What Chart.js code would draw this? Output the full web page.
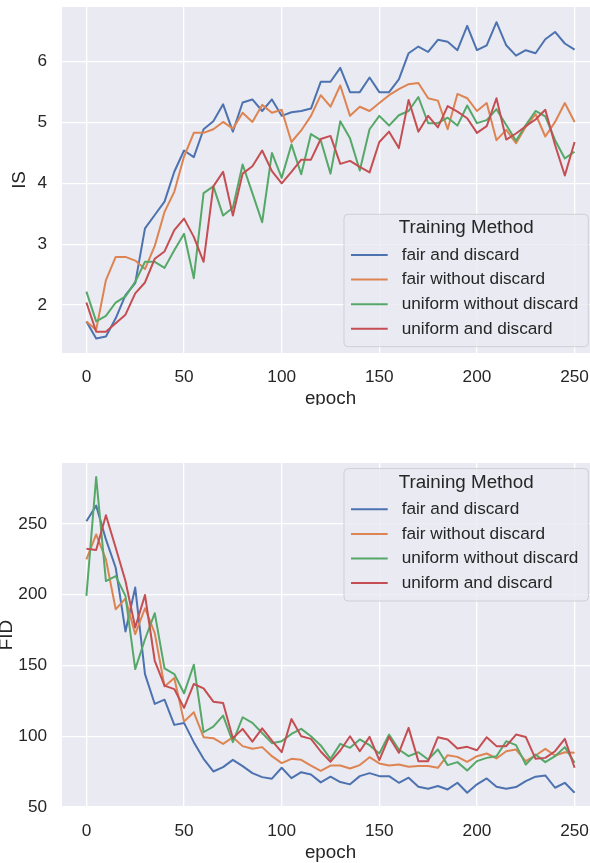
<!DOCTYPE html>
<html><head><meta charset="utf-8">
<script src="https://cdn.jsdelivr.net/npm/chart.js@4"></script>
<style>
html,body{margin:0;padding:0;background:#fff;overflow:hidden;width:590px;height:863px}
.wrap{position:absolute;left:0;width:590px;overflow:hidden}
canvas{display:block}
</style></head><body>
<div class="wrap" style="top:0;height:405px"><canvas id="c1" width="599" height="456"></canvas></div>
<div class="wrap" style="top:455px;height:408px"><canvas id="c2" width="599" height="456"></canvas></div>
<script>
// ---- data ----
const epochs = [0,5,10,15,20,25,30,35,40,45,50,55,60,65,70,75,80,85,90,95,100,105,110,115,120,125,130,135,140,145,150,155,160,165,170,175,180,185,190,195,200,205,210,215,220,225,230,235,240,245,250];
const seriesNames = ["fair and discard","fair without discard","uniform without discard","uniform and discard"];
const legendTitle = "Training Method";
const xTickLabels = [0,50,100,150,200,250];
const isTickLabels = [2,3,4,5,6];
const fidTickLabels = [50,100,150,200,250];

const isFairDiscard = [1.73,1.45,1.48,1.78,2.16,2.36,3.26,3.48,3.70,4.19,4.54,4.43,4.89,5.02,5.30,4.85,5.33,5.38,5.19,5.38,5.11,5.17,5.19,5.23,5.67,5.67,5.90,5.50,5.50,5.74,5.50,5.50,5.71,6.14,6.25,6.16,6.36,6.33,6.19,6.59,6.19,6.27,6.65,6.27,6.10,6.19,6.14,6.37,6.49,6.30,6.20];
const isFairNoDiscard = [1.73,1.59,2.41,2.79,2.79,2.73,2.59,2.97,3.53,3.86,4.44,4.83,4.83,4.89,5.01,4.90,5.16,5.01,5.29,5.16,5.21,4.68,4.87,5.11,5.45,5.26,5.61,5.11,5.26,5.19,5.32,5.45,5.55,5.63,5.65,5.40,5.36,4.89,5.47,5.40,5.19,5.32,4.71,4.88,4.66,4.93,5.14,4.77,5.01,5.32,5.01];
const isUniformNoDiscard = [2.22,1.73,1.82,2.04,2.14,2.38,2.71,2.71,2.61,2.90,3.17,2.44,3.84,3.95,3.47,3.60,4.31,3.84,3.36,4.50,4.09,4.64,4.15,4.81,4.71,4.16,5.02,4.74,4.21,4.89,5.11,4.95,5.12,5.19,5.42,4.99,4.99,5.08,4.95,5.28,4.99,5.04,5.22,4.96,4.70,4.96,5.19,5.10,4.71,4.41,4.52];
const isUniformDiscard = [2.04,1.56,1.56,1.70,1.84,2.19,2.37,2.76,2.88,3.23,3.42,3.12,2.71,3.95,4.19,3.47,4.16,4.28,4.54,4.20,4.00,4.19,4.39,4.39,4.73,4.78,4.32,4.37,4.27,4.18,4.68,4.85,4.58,5.37,4.85,5.11,4.92,5.27,5.18,5.07,4.83,4.94,5.40,4.72,4.82,4.94,5.05,5.21,4.63,4.13,4.68];

const fidFairDiscard = [251.9,262.9,239,219,174,205,143.9,122.8,125.8,108,109.4,95.8,84,75.1,78.2,83.3,78.9,73.9,71.1,70,77.7,70.4,74.6,73,67.4,71.4,67.6,66,71.8,73.9,71.8,71.8,67.1,70.7,64.3,62.9,64.8,62.4,67.1,60.1,66,70.2,64.3,62.9,64.1,68.3,71.4,72.3,63.6,67.1,60.1];
const fidFairNoDiscard = [224.9,242.5,224.9,189.7,197.2,172.1,190.4,172.8,135.2,141.1,110.3,116.9,99.3,98.6,94.6,99.3,93,91.1,92.3,85.9,81,84,83.3,79.3,75.6,79.3,79.3,77.2,79.6,85.2,80.8,79.3,80,78.4,78.9,78.9,77.7,86.6,85.4,81.9,85.9,87.8,84.3,89.4,90.6,82.4,86.4,91.1,86.4,88.7,88.3];
const fidUniformNoDiscard = [199.1,283.1,209.6,213.1,199.1,147.4,168.5,186.9,147.9,143.9,130.3,150.5,102.8,106.8,114.6,95.8,113.4,109.4,102.3,95.1,96.5,101.6,105.2,100,93.5,84,94.6,91.8,97.7,93.7,87.8,101.2,90.6,85.9,88.7,83.6,90.6,79.6,81.7,75.8,82.4,84.7,85.9,96.5,93.7,80,87.1,81.7,85.9,92.3,81.2];
const fidUniformDiscard = [232.4,231.5,256.1,233.1,209.6,176.8,199.8,153.3,135.7,133.3,120,136.9,133.8,124.4,123.5,98.6,105.2,96.2,105.6,96.9,88.7,112.2,100,98.1,89.2,82,89.9,100,89.4,99.5,83.1,99.5,88.3,105.9,82.4,82.4,99.3,97.7,91.3,92.5,90.1,99.3,93,93,101.2,99.5,84,84.7,89.4,98.1,77.7];

// ---- style ----
const COLORS = ['#4C72B0','#DD8452','#55A868','#C44E52'];
const FAM = '"Liberation Sans", Arial, sans-serif';
const TXT = '#262626';

const bgPlugin = {
  id: 'bgArea',
  beforeDraw(chart) {
    const {ctx, chartArea: a} = chart;
    ctx.save();
    ctx.fillStyle = '#EAEAF2';
    ctx.fillRect(a.left, a.top, a.right - a.left, a.bottom - a.top);
    ctx.restore();
  }
};

const boxLegend = {
  id: 'boxLegend',
  afterDraw(chart, args, opts) {
    const ctx = chart.ctx;
    const x0 = 344, x1 = 588.3, y0 = opts.top, h = 132.4, r = 4;
    ctx.save();
    ctx.beginPath();
    ctx.moveTo(x0 + r, y0);
    ctx.lineTo(x1 - r, y0); ctx.arcTo(x1, y0, x1, y0 + r, r);
    ctx.lineTo(x1, y0 + h - r); ctx.arcTo(x1, y0 + h, x1 - r, y0 + h, r);
    ctx.lineTo(x0 + r, y0 + h); ctx.arcTo(x0, y0 + h, x0, y0 + h - r, r);
    ctx.lineTo(x0, y0 + r); ctx.arcTo(x0, y0, x0 + r, y0, r);
    ctx.closePath();
    ctx.fillStyle = 'rgba(234,234,242,0.8)';
    ctx.fill();
    ctx.strokeStyle = '#cfcfd4';
    ctx.lineWidth = 1;
    ctx.stroke();
    ctx.fillStyle = TXT;
    ctx.textBaseline = 'middle';
    ctx.textAlign = 'center';
    ctx.font = '18.8px ' + FAM;
    ctx.fillText(legendTitle, (x0 + x1) / 2, y0 + 14);
    ctx.textAlign = 'left';
    ctx.font = '17.2px ' + FAM;
    chart.data.datasets.forEach((ds, i) => {
      const y = y0 + 40.7 + 24.6 * i;
      ctx.strokeStyle = ds.borderColor;
      ctx.lineWidth = 2;
      ctx.beginPath(); ctx.moveTo(351, y); ctx.lineTo(387.7, y); ctx.stroke();
      ctx.fillStyle = TXT;
      ctx.fillText(ds.label, 401.7, y);
    });
    ctx.restore();
  }
};

function makeChart(id, series, yMin, yMax, yTicks, yTitle, padTop, areaH, legendTop, yTitlePad, xTitlePad) {
  const H = 456;
  return new Chart(document.getElementById(id), {
    type: 'line',
    data: {
      datasets: series.map((vals, i) => ({
        label: seriesNames[i],
        data: epochs.map((e, j) => ({x: e, y: vals[j]})),
        borderColor: COLORS[i],
        backgroundColor: COLORS[i],
        borderWidth: 2,
        pointRadius: 0,
        tension: 0,
        fill: false,
        borderJoinStyle: 'round',
        order: 3 - i
      }))
    },
    options: {
      responsive: false,
      animation: false,
      devicePixelRatio: 1,
      layout: {padding: {top: padTop, left: 0, right: 0, bottom: 0}},
      plugins: {legend: {display: false}, tooltip: {enabled: false}, boxLegend: {top: legendTop}},
      scales: {
        x: {
          type: 'linear', min: -12.5, max: 262.5,
          afterBuildTicks: s => { s.ticks = xTickLabels.map(v => ({value: v})); },
          ticks: {padding: 14, color: TXT, font: {family: FAM, size: 17.2}, maxRotation: 0, autoSkip: false, callback: v => String(v)},
          grid: {color: '#ffffff', lineWidth: 1.3, drawTicks: false},
          border: {display: false},
          title: {display: true, text: 'epoch', color: TXT, font: {family: FAM, size: 18.8}, padding: {top: 0, bottom: xTitlePad}},
          afterFit: s => { s.height = H - padTop - areaH; s.paddingLeft = 0; s.paddingRight = 0; }
        },
        y: {
          type: 'linear', min: yMin, max: yMax,
          afterBuildTicks: s => { s.ticks = yTicks.map(v => ({value: v})); },
          ticks: {padding: 15, color: TXT, font: {family: FAM, size: 17.2}, autoSkip: false, callback: v => String(v)},
          grid: {color: '#ffffff', lineWidth: 1.3, drawTicks: false},
          border: {display: false},
          title: {display: true, text: yTitle, color: TXT, font: {family: FAM, size: 18.8}, padding: {top: yTitlePad, bottom: 0}},
          afterFit: s => { s.width = 62; s.paddingTop = 0; s.paddingBottom = 0; }
        }
      }
    },
    plugins: [bgPlugin, boxLegend]
  });
}

makeChart('c1', [isFairDiscard, isFairNoDiscard, isUniformNoDiscard, isUniformDiscard],
  1.21, 6.9, isTickLabels, 'IS', 7, 346, 214.3, 8.6, 46.2);
makeChart('c2', [fidFairDiscard, fidFairNoDiscard, fidUniformNoDiscard, fidUniformDiscard],
  50, 293, fidTickLabels, 'FID', 8, 344, 13.6, -4.9, 47.2);
</script>
</body></html>
